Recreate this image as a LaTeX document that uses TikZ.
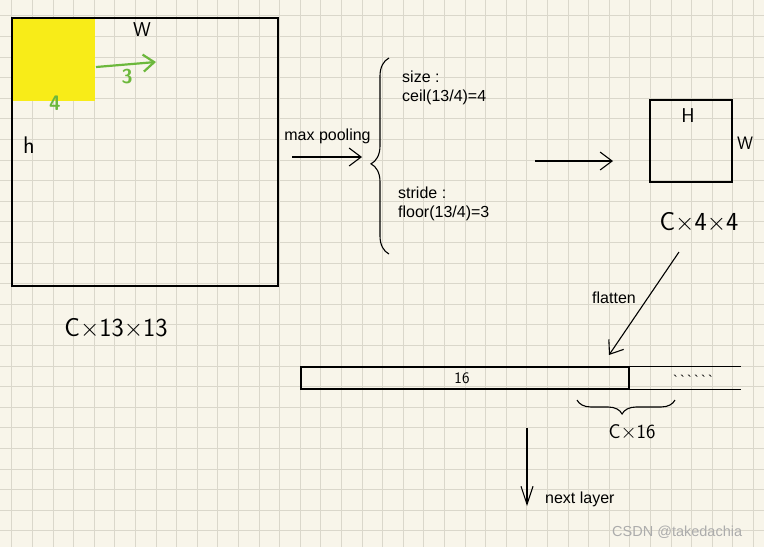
\documentclass[tikz,border=0pt]{standalone}
\usepackage{fontspec}
\setmainfont{Liberation Sans}
\usetikzlibrary{arrows.meta,decorations.pathreplacing}
\definecolor{paper}{RGB}{248,245,234}
\definecolor{gridc}{RGB}{218,215,203}
\definecolor{hlgreen}{RGB}{108,184,60}
\definecolor{hlyellow}{RGB}{248,236,24}
\definecolor{wmark}{RGB}{172,172,172}
\begin{document}
\begin{tikzpicture}[x=1pt,y=-1pt,
	box/.style={draw,line width=1.2pt,inner sep=0},
	lbl/.style={font=\fontsize{16}{18}\selectfont,inner sep=0},
	hand/.style={font=\sffamily\fontsize{#1}{#1}\selectfont,inner sep=0},
	gnum/.style={font=\sffamily\bfseries\fontsize{#1}{#1}\selectfont,inner sep=0,text=hlgreen},
	arr/.style={line width=1.1pt,-{Straight Barb[length=12pt,width=18pt]}},
	curly/.style={line width=1.1pt,decorate},
	gridline/.style={gridc,line width=0.8pt}]
\useasboundingbox (0,0) rectangle (764,547);
\fill[paper] (0,0) rectangle (764,547);
\foreach \i in {0,...,36} \draw[gridline] ({11.7+20.6*\i},0) -- ++(0,547);
\foreach \j in {0,...,25} \draw[gridline] (0,{15.8+20.6*\j}) -- ++(764,0);
% input feature map
\node[fill=hlyellow,inner sep=0,minimum width=83pt,minimum height=82pt] (win) at (53.5,60) {};
\node[box,minimum width=266pt,minimum height=268pt] (fmap) at (145,152) {};
\coordinate (g1) at (96,67);
\coordinate (g2) at (156,62);
\draw[arr,hlgreen,line width=2.2pt,-{Straight Barb[length=11pt,width=17pt]}] (g1) -- (g2);
\node[gnum=20] (s3) at (127,77) {3};
\node[gnum=21] (k4) at (55,103) {4};
\node[hand=20] (wtop) at (142,30) {W};
\node[hand=24] (hleft) at (29,145) {h};
\node[hand=26] (dim1) at (116,328) {C$\times$13$\times$13};
% max pooling
\node[lbl] (mp) at (327.5,136) {max pooling};
\coordinate (a1) at (292,157);
\coordinate (a2) at (362,157);
\draw[arr] (a1) -- (a2);
\coordinate (brb) at (389,254);
\coordinate (brt) at (389,58);
\draw[curly,decoration={brace,amplitude=18pt,aspect=0.46}] (brb) -- (brt);
\node[lbl,anchor=west] (size) at (402,77) {size :};
\node[lbl,anchor=west] (ceil) at (402,97) {ceil(13/4)=4};
\node[lbl,anchor=west] (stride) at (398,193) {stride :};
\node[lbl,anchor=west] (floor) at (398,213) {floor(13/4)=3};
\coordinate (b1) at (535,161);
\coordinate (b2) at (613,161);
\draw[arr] (b1) -- (b2);
% output
\node[box,minimum width=82pt,minimum height=82pt] (omap) at (691,141) {};
\node[hand=20] (hout) at (688,116) {H};
\node[hand=18] (wout) at (745,143) {W};
\node[hand=26] (dim2) at (699,222) {C$\times$4$\times$4};
% flatten
\coordinate (f1) at (679,252);
\coordinate (f2) at (609,355);
\draw[arr] (f1) -- (f2);
\node[lbl] (flat) at (614,298) {flatten};
\node[box,minimum width=328pt,minimum height=22pt] (vec) at (465,378) {};
\node[hand=16] (n16) at (462,378) {16};
\draw[line width=1.2pt] (vec.north east) -- ++(111,0) (vec.south east) -- ++(111,0);
\node[font=\fontsize{14}{14}\selectfont,inner sep=0] (dots) at (693,380) {\textasciigrave\,\textasciigrave\,\textasciigrave\,\textasciigrave\,\textasciigrave\,\textasciigrave};
\coordinate (c1) at (577,400);
\coordinate (c2) at (675,400);
\draw[curly,decoration={brace,amplitude=14pt,mirror,aspect=0.46}] (c1) -- (c2);
\node[hand=20] (dim3) at (632,432) {C$\times$16};
% next layer
\coordinate (d1) at (527,428);
\coordinate (d2) at (527,506);
\draw[arr,-{Straight Barb[length=18pt,width=12pt]}] (d1) -- (d2);
\node[lbl,anchor=west] (next) at (545,499) {next layer};
\node[font=\fontsize{14.5}{16}\selectfont,text=wmark,anchor=west,inner sep=0] (csdn) at (612,532) {CSDN @takedachia};
\end{tikzpicture}
\end{document}
